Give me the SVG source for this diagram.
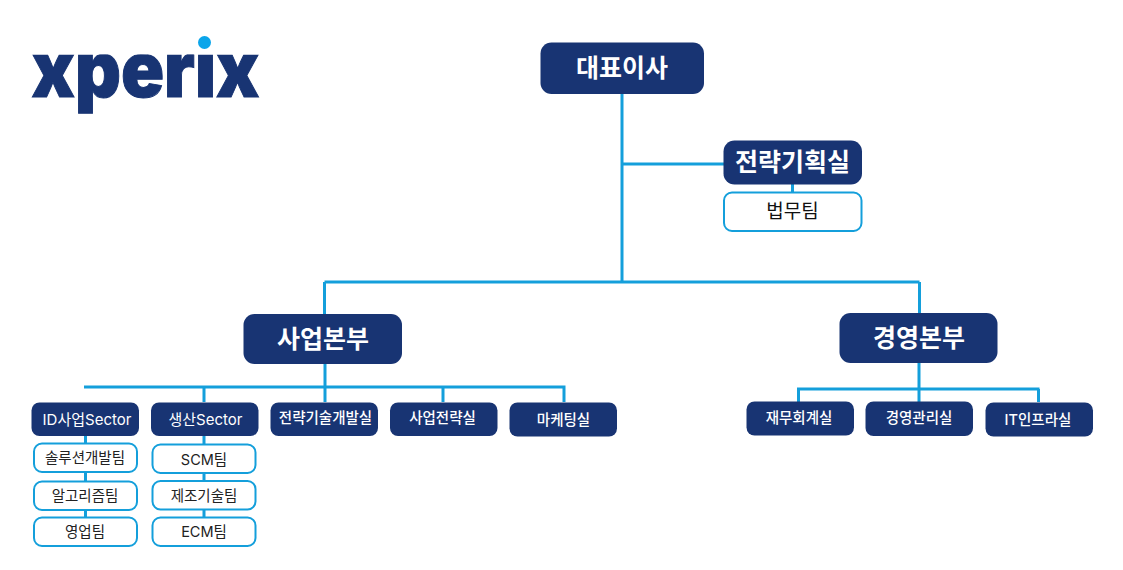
<svg xmlns="http://www.w3.org/2000/svg" width="1123" height="570" viewBox="0 0 1123 570">
<defs>
<style>
text{font-family:Inter,"Noto Sans CJK KR","Noto Sans",sans-serif;text-anchor:middle}
.n{fill:#183473}
.l{fill:#fff;font-size:14.5px;font-weight:500}
.lt{fill:#fff;font-size:15px;font-weight:400}
.xl{fill:#fff;font-size:25px;font-weight:700}
.s{fill:#fff;stroke:#149fdb;stroke-width:2}
.st{fill:#222;font-size:14.5px}
.c{fill:none;stroke:#149fdb;stroke-width:3}
</style>
<clipPath id="logoclip"><rect x="20" y="54.500" width="260" height="70"/></clipPath>
</defs>
<rect width="1123" height="570" fill="#fff"/>
<g id="logo">
<text x="145.500" y="97" clip-path="url(#logoclip)" style="font-family:Inter,'Liberation Sans',sans-serif;font-weight:900;font-size:77px;fill:#183473;stroke:#183473;stroke-width:1" textLength="228" lengthAdjust="spacingAndGlyphs">xperix</text>
<circle cx="204.500" cy="42.500" r="6.500" fill="#0ba5ea"/>
</g>
<g id="connectors">
<path class="c" d="M622 94V282M622 164H724M792.500 184V193M324.500 282H919.500M324.500 282V314M919.500 282V313"/>
<path class="c" d="M325 364V402M84 387H565.500M204 387V402M443 387V402M564 387V402"/>
<path class="c" d="M919 363V402M797 389H1039.500M798.500 389V402M1038.500 389V402"/>
<path class="c" d="M85.500 436V517M204 436V517"/>
</g>
<g id="n-ceo"><rect class="n" x="540.500" y="42.500" width="163.500" height="51.500" rx="11"/><text class="xl" x="622" y="77">대표이사</text></g>
<g id="n-strategy"><rect class="n" x="723.500" y="140.500" width="138.500" height="44" rx="11"/><text class="xl" x="792.500" y="171">전략기획실</text></g>
<g id="n-legal"><rect class="s" x="724" y="192.500" width="137.500" height="38.500" rx="8"/><text class="st" x="792.500" y="218" style="font-size:19px;fill:#111">법무팀</text></g>
<g id="n-biz"><rect class="n" x="243.500" y="314" width="158.500" height="50" rx="11"/><text class="xl" x="323" y="348">사업본부</text></g>
<g id="n-mgmt"><rect class="n" x="839.500" y="313" width="158" height="50" rx="11"/><text class="xl" x="919" y="347">경영본부</text></g>
<g id="n-id"><rect class="n" x="31.500" y="402.500" width="107.500" height="33.500" rx="8"/><text class="lt" x="87" y="424.500">ID사업Sector</text></g>
<g id="n-prod"><rect class="n" x="151" y="402.500" width="107.500" height="33.500" rx="8"/><text class="lt" x="205.500" y="424.500">생산Sector</text></g>
<g id="n-tech"><rect class="n" x="270.500" y="402.500" width="107.500" height="33.500" rx="8"/><text class="l" x="325.500" y="423">전략기술개발실</text></g>
<g id="n-bizstrat"><rect class="n" x="390" y="402.500" width="107.500" height="33.500" rx="8"/><text class="l" x="442.500" y="423">사업전략실</text></g>
<g id="n-mkt"><rect class="n" x="509.500" y="402.500" width="107.500" height="34" rx="8"/><text class="l" x="563.500" y="425">마케팅실</text></g>
<g id="n-fin"><rect class="n" x="746.500" y="401.500" width="107.500" height="34" rx="8"/><text class="l" x="799" y="423">재무회계실</text></g>
<g id="n-admin"><rect class="n" x="865.500" y="401.500" width="107.500" height="34.500" rx="8"/><text class="l" x="919" y="423">경영관리실</text></g>
<g id="n-it"><rect class="n" x="985.500" y="402.500" width="107.500" height="34" rx="8"/><text class="l" x="1038" y="425">IT인프라실</text></g>
<g id="n-sol"><rect class="s" x="34" y="443.500" width="103" height="28.500" rx="8"/><text class="st" x="85" y="462.500">솔루션개발팀</text></g>
<g id="n-algo"><rect class="s" x="34" y="481.500" width="103" height="28.500" rx="8"/><text class="st" x="85" y="500.500">알고리즘팀</text></g>
<g id="n-sales"><rect class="s" x="34" y="517.500" width="103" height="28.500" rx="8"/><text class="st" x="85" y="537">영업팀</text></g>
<g id="n-scm"><rect class="s" x="152.500" y="444.500" width="103" height="28.500" rx="8"/><text class="st" x="204" y="465">SCM팀</text></g>
<g id="n-mfg"><rect class="s" x="152.500" y="481" width="103" height="28.500" rx="8"/><text class="st" x="204" y="500.500">제조기술팀</text></g>
<g id="n-ecm"><rect class="s" x="152.500" y="517.500" width="103" height="28.500" rx="8"/><text class="st" x="204" y="537">ECM팀</text></g>
</svg>
